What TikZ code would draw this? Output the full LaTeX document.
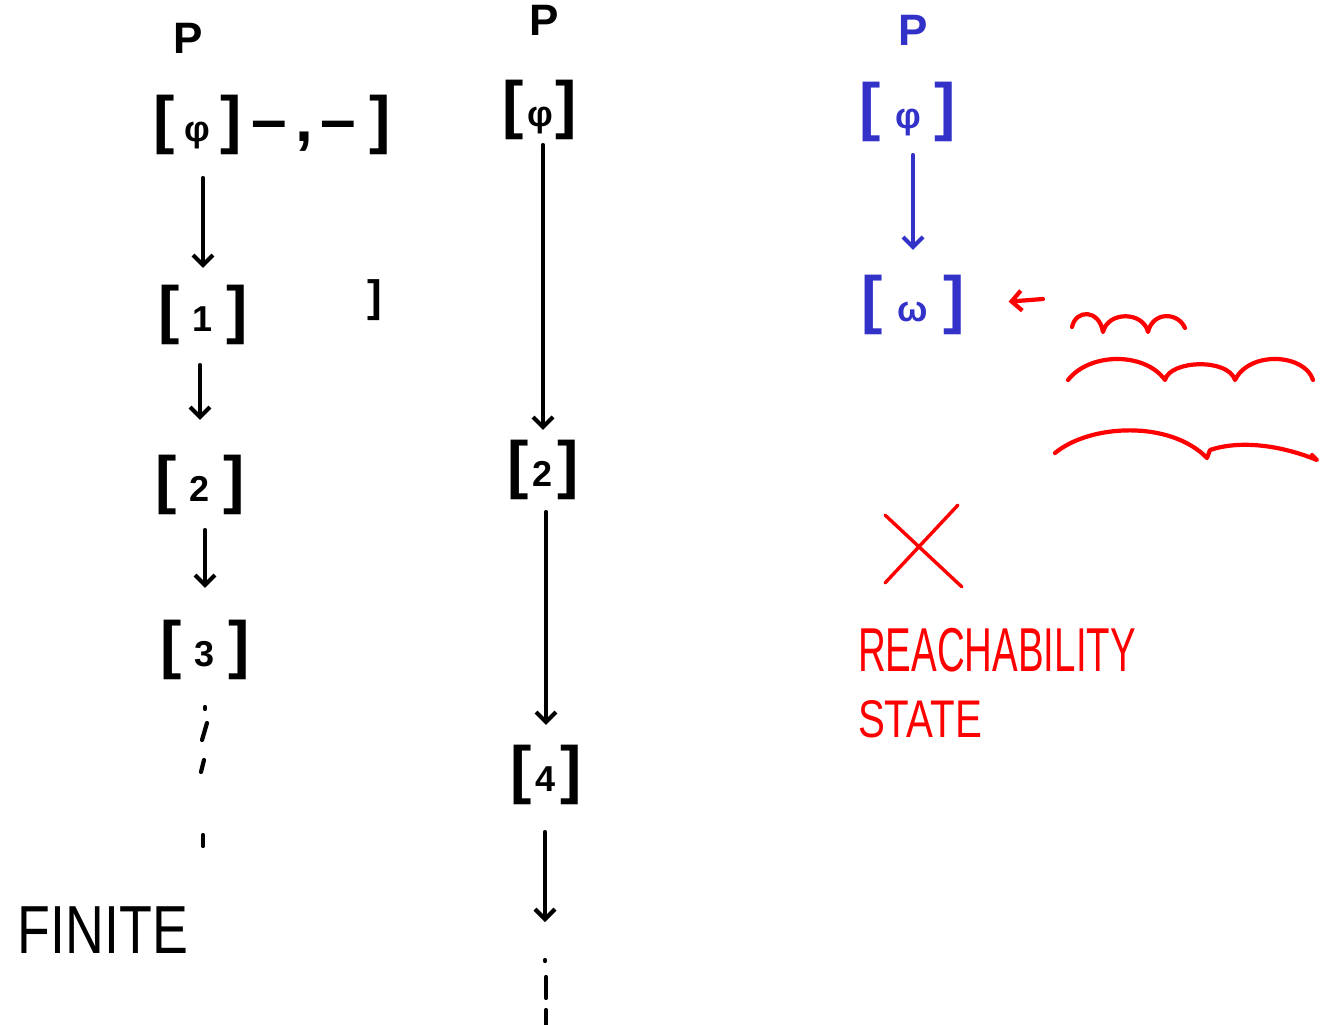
\documentclass[tikz,border=0pt]{standalone}
\usepackage{fontspec}
\setmainfont{Liberation Sans}
\usepackage{graphicx}
\usetikzlibrary{arrows.meta}
\definecolor{penblue}{RGB}{50,50,200}
\definecolor{penred}{RGB}{255,0,0}
\newcommand{\bxt}[2][13]{[\hspace{#1pt}{\fontsize{36}{36}\selectfont #2}\hspace{#1pt}]}
\tikzset{
  lbl/.style={inner sep=0pt, font=\fontsize{64}{64}\selectfont\bfseries},
  ptxt/.style={inner sep=0pt, font=\fontsize{44}{44}\selectfont\bfseries},
  word/.style={inner sep=0pt},
  pen/.style={line width=4.2pt, line cap=round, line join=round},
  arr/.style={pen, -{Straight Barb[length=10pt,width=20pt]}},
}
\begin{document}
\begin{tikzpicture}[x=1pt,y=-1pt]
\useasboundingbox (0,0) rectangle (1326,1025);
% ---------- column 1 ----------
\node[ptxt] (p1) at (188,38) {P};
\node[lbl] (phi1) at (272,125) {\bxt[10]{φ}\hspace{10pt}–\hspace{8pt},\hspace{8pt}–\hspace{13pt}]};
\node[lbl] (one) at (203,315) {\bxt{1}};
\node[lbl] (two) at (200,485) {\bxt{2}};
\node[lbl] (three) at (205,650) {\bxt{3}};
\node[inner sep=0pt, font=\fontsize{44}{44}\selectfont\bfseries] (stray) at (375,300) {]};
\draw[arr, shorten <=23pt, shorten >=17pt] (one.north |- phi1.south) -- (one.north);
\draw[arr, shorten <=20pt, shorten >=35pt] (two.north |- one.south) -- (two.north);
\draw[arr, shorten <=15pt, shorten >=32pt] (three.north |- two.south) -- (three.north);
\draw[pen] (205,707) -- (205,709);
\draw[pen] (207,723) -- (202,740);
\draw[pen] (204,760) -- (201,772);
\draw[pen] (203,835) -- (203,846);
\node[word, font=\fontsize{68}{68}\selectfont] (finite) at (103,930) {\scalebox{0.79}[1]{FINITE}};
% ---------- column 2 ----------
\node[ptxt] (p2) at (544,20) {P};
\node[lbl] (phi2) at (540,110) {\bxt[3]{φ}};
\node[lbl] (two2) at (543,470) {\bxt[4]{2}};
\node[lbl] (four) at (546,775) {\bxt[4]{4}};
\coordinate (end2) at (545,922);
\draw[arr, shorten <=5pt, shorten >=10pt] (two2.north |- phi2.south) -- (two2.north);
\draw[arr, shorten <=12pt, shorten >=20pt] (four.north |- two2.south) -- (four.north);
\draw[arr, shorten <=27pt] (end2 |- four.south) -- (end2);
\draw[pen] (545,960) -- (545,961);
\draw[pen] (546,977) -- (546,998);
\draw[pen] (546,1010) -- (546,1025);
% ---------- column 3 (blue) ----------
\begin{scope}[penblue]
\node[ptxt, text=penblue] (p3) at (913,30) {P};
\node[lbl, text=penblue] (phi3) at (908,112) {\bxt[14]{φ}};
\node[lbl, text=penblue] (omega) at (913,305) {\bxt[15]{ω}};
\draw[arr, draw=penblue, shorten <=13pt, shorten >=25pt] (omega.north |- phi3.south) -- (omega.north);
\end{scope}
% ---------- red annotations ----------
\coordinate (tail) at (1043,299);
\draw[arr, draw=penred, shorten >=44pt] (tail) -- (omega.east);
\draw[pen, penred] (1072,327) .. controls (1076,309) and (1099,309) .. (1103,332)
  .. controls (1108,311) and (1143,311) .. (1148,332)
  .. controls (1153,311) and (1178,312) .. (1185,328);
\draw[pen, penred] (1068,380) .. controls (1090,352) and (1145,352) .. (1165,380)
  .. controls (1170,360) and (1228,358) .. (1235,380)
  .. controls (1250,350) and (1305,354) .. (1313,380);
\draw[pen, penred] (1055,453) .. controls (1090,424) and (1170,420) .. (1207,458)
  -- (1210,450) .. controls (1240,440) and (1280,445) .. (1317,460) -- (1312,455);
\draw[pen, penred, line width=3.4pt] (885,515) -- (962,587);
\draw[pen, penred, line width=3.4pt] (958,505) -- (885,583);
\node[word, text=penred, font=\fontsize{62}{62}\selectfont] (reach) at (997,650) {\scalebox{0.62}[1]{REACHABILITY}};
\node[word, text=penred, font=\fontsize{53}{53}\selectfont] (state) at (920,719) {\scalebox{0.76}[1]{STATE}};
\end{tikzpicture}
\end{document}
